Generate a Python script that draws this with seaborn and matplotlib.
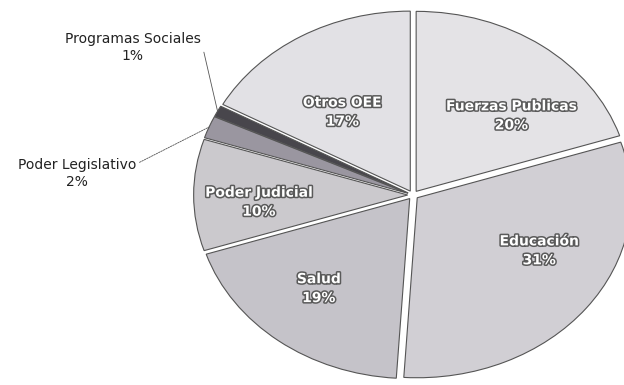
import numpy as np
import matplotlib
matplotlib.use("Agg")
import matplotlib.pyplot as plt
import matplotlib.patheffects as pe
import seaborn as sns

# --- datos ---
categorias = ["Fuerzas Publicas", "Educación", "Salud", "Poder Judicial",
              "Poder Legislativo", "Programas Sociales", "Otros OEE"]
porcentajes = [20, 31, 19, 10, 2, 1, 17]

# --- estilo ---
colores = ["#e4e3e6", "#d1cfd4", "#c5c3c9", "#cbc9cd", "#9a96a0", "#48464c", "#e2e1e5"]
# donde van las etiquetas (coordenadas del eje)
pos_etiqueta = {
    "Fuerzas Publicas": (0.46, 0.44),
    "Otros OEE": (-0.33, 0.46),
    "Educación": (0.59, -0.31),
    "Salud": (-0.44, -0.52),
    "Poder Judicial": (-0.72, -0.04),
    "Programas Sociales": (-1.31, 0.82),
    "Poder Legislativo": (-1.57, 0.12),
}

sns.set_style("white")
fig = plt.figure(figsize=(6.24, 3.85), dpi=100)
ax = fig.add_axes([0, 0, 1, 1])

wedges, _ = ax.pie(porcentajes, colors=colores, startangle=90, counterclock=False,
                   explode=[0.025] * len(porcentajes),
                   wedgeprops=dict(edgecolor="#555555", linewidth=0.8))

# el pastel del original esta estirado horizontalmente
ax.set_aspect("auto")
rx, ry, cx, cy = 214, 180, 413, 195
ax.set_xlim(-cx / rx, (624 - cx) / rx)
ax.set_ylim(-(385 - cy) / ry, cy / ry)
ax.axis("off")

sombra = [pe.withStroke(linewidth=2.2, foreground="#5a5a5a")]
externos = {"Programas Sociales": "-", "Poder Legislativo": (0, (2, 1.2))}

for w, nombre, pct in zip(wedges, categorias, porcentajes):
    ang = np.deg2rad((w.theta1 + w.theta2) / 2)
    ox, oy = w.center
    tx, ty = pos_etiqueta[nombre]
    if nombre in externos:
        ax.annotate(f"{nombre}\n{pct}%", xy=(ox + np.cos(ang), oy + np.sin(ang)),
                    xytext=(tx, ty), ha="center", va="center", fontsize=10,
                    family="DejaVu Sans", color="#222222", linespacing=1.3,
                    arrowprops=dict(arrowstyle="-", color="#555555", lw=0.6,
                                    ls=externos[nombre], relpos=(1, 0.8),
                                    shrinkA=0, shrinkB=0))
    else:
        ax.text(tx, ty, f"{nombre}\n{pct}%", ha="center", va="center",
                fontsize=10, fontweight="bold", color="white",
                path_effects=sombra, linespacing=1.45)

fig.savefig("out.png", dpi=100)
